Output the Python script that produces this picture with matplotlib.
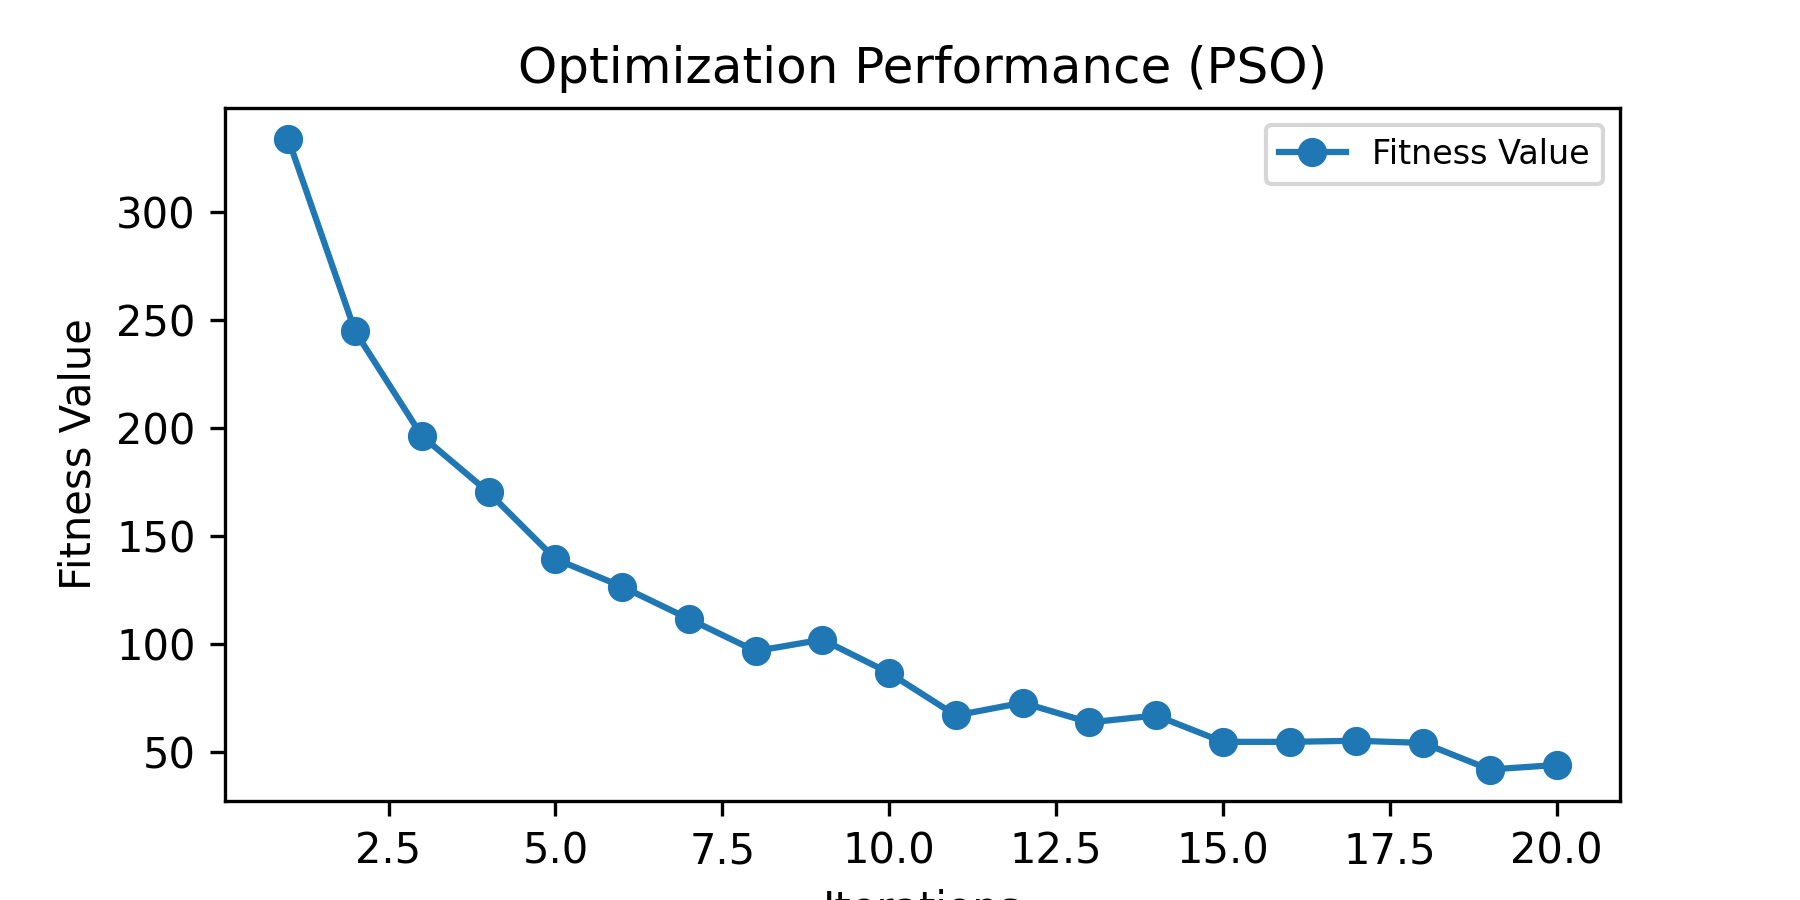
import matplotlib
matplotlib.use("Agg")
import matplotlib.pyplot as plt

iterations = list(range(1, 21))
fitness = [333.5, 244.7, 196.3, 170.2, 139.4, 126.6, 111.7, 96.8, 102.1, 86.7,
           67.0, 72.9, 63.8, 67.0, 54.8, 54.8, 55.3, 54.3, 42.0, 44.1]

fig = plt.figure(figsize=(6, 3), dpi=300)
plt.plot(iterations, fitness, marker='o', label='Fitness Value')
plt.title('Optimization Performance (PSO)')
plt.xlabel('Iterations')
plt.ylabel('Fitness Value')
plt.legend(fontsize=8)
plt.savefig('out.png')
